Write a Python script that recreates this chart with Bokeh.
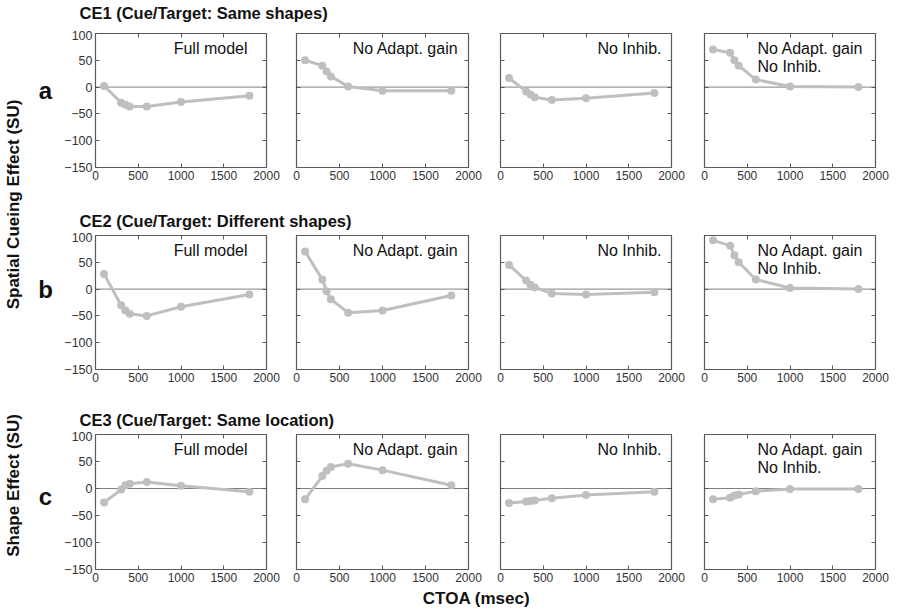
from bokeh.plotting import figure
from bokeh.layouts import row, column
from bokeh.models import (Range1d, LinearAxis, FixedTicker, Label, Span,
                          CustomJSTickFormatter, ColumnDataSource)
from bokeh.embed import file_html
from bokeh.resources import INLINE

# ---------------- data ----------------
ctoa = [100, 300, 350, 400, 600, 1000, 1800]

ce1_full = [2, -29, -33, -36, -36, -28, -16]
ce1_no_adapt = [50, 40, 29, 20, 1, -7, -7]
ce1_no_inhib = [17, -8, -14, -19, -24, -21, -11]
ce1_no_both = [70, 64, 50, 40, 14, 1, 0]

ce2_full = [28, -30, -40, -46, -50, -33, -10]
ce2_no_adapt = [70, 18, -4, -19, -44, -40, -12]
ce2_no_inhib = [45, 16, 8, 3, -8, -10, -6]
ce2_no_both = [91, 81, 63, 50, 18, 2, 0]

ce3_full = [-26, -2, 6, 9, 12, 5, -6]
ce3_no_adapt = [-20, 23, 33, 40, 46, 34, 6]
ce3_no_inhib = [-27, -24, -23, -22, -18, -12, -6]
ce3_no_both = [-20, -17, -13, -11, -5, -1, -1]

row_titles = ["CE1 (Cue/Target: Same shapes)",
              "CE2 (Cue/Target: Different shapes)",
              "CE3 (Cue/Target: Same location)"]
row_letters = ["a", "b", "c"]
panel_names = [["Full model"], ["No Adapt. gain"], ["No Inhib."],
               ["No Adapt. gain", "No Inhib."]]
x_ticks = [0, 500, 1000, 1500, 2000]
y_ticks = [-150, -100, -50, 0, 50, 100]
y_title_top = "Spatial Cueing Effect (SU)"
y_title_bottom = "Shape Effect (SU)"
x_title = "CTOA (msec)"

series = [[ce1_full, ce1_no_adapt, ce1_no_inhib, ce1_no_both],
          [ce2_full, ce2_no_adapt, ce2_no_inhib, ce2_no_both],
          [ce3_full, ce3_no_adapt, ce3_no_inhib, ce3_no_both]]

# ---------------- style / layout ----------------
FONT = "Liberation Sans"
LINE_COLOR = "#bfbfbf"
FRAME_COLOR = "#5a5a5a"
TICK_TXT = "#333333"
TXT = "#111111"
FW = [171, 172, 171, 171]
FH = [134, 134, 135]
LEFT_W = 58
LEFT_B = [37, 15, 16, 17]
RIGHT_B = [15, 16, 16, 21]
TOP_B = [3, 3, 3]
BOT_B = [34, 32, 20]
TITLE_H = [30, 31, 30]
TITLE_Y = [17.5, 12, 12]   # cap centre above the bottom of each title strip
XLABEL_H = 20

minus_fmt = CustomJSTickFormatter(code="return tick < 0 ? '\u2212' + Math.abs(tick) : String(tick);")
blank_fmt = CustomJSTickFormatter(code="return '';")


def make_axis(labels, ticks, size="12px"):
    ax = LinearAxis(ticker=FixedTicker(ticks=ticks),
                    major_tick_in=4, major_tick_out=0,
                    minor_tick_in=0, minor_tick_out=0,
                    major_tick_line_color=FRAME_COLOR,
                    axis_line_color=None)
    if labels:
        ax.formatter = minus_fmt
        ax.major_label_text_font = FONT
        ax.major_label_text_font_size = size
        ax.major_label_text_color = TICK_TXT
        ax.major_label_standoff = 3
    else:
        ax.formatter = blank_fmt
        ax.major_label_text_font_size = "0px"
        ax.major_label_standoff = 0
    return ax


def text_label(x, y, text, size, bold=False, align="left", angle=0):
    return Label(x=x, y=y, x_units="screen", y_units="screen", text=text,
                 angle=angle, angle_units="deg", text_font=FONT,
                 text_font_size=size,
                 text_font_style="bold" if bold else "normal",
                 text_color=TXT, text_align=align, text_baseline="middle")


def panel(r, c):
    fw, fh = FW[c], FH[r]
    p = figure(width=LEFT_B[c] + fw + RIGHT_B[c], height=TOP_B[r] + fh + BOT_B[r],
               x_range=Range1d(0, 2000), y_range=Range1d(-150, 100),
               x_axis_type=None, y_axis_type=None,
               min_border_left=LEFT_B[c], min_border_right=RIGHT_B[c],
               min_border_top=TOP_B[r], min_border_bottom=BOT_B[r],
               output_backend="svg", toolbar_location=None)
    p.outline_line_color = FRAME_COLOR
    p.outline_line_width = 1.2
    p.add_layout(make_axis(True, x_ticks, "12px"), "below")
    p.add_layout(make_axis(c == 0, y_ticks, "12.5px"), "left")
    p.add_layout(make_axis(False, x_ticks), "above")
    p.add_layout(make_axis(False, y_ticks), "right")
    p.add_layout(Span(location=0, dimension="width", line_color="#000000",
                      line_dash="1 1", line_width=1, level="underlay"))
    src = ColumnDataSource(dict(x=ctoa, y=series[r][c]))
    p.line("x", "y", source=src, line_color=LINE_COLOR, line_width=3)
    p.scatter("x", "y", source=src, size=8, fill_color=LINE_COLOR,
              line_color=None)
    names = panel_names[c]
    if len(names) == 1:
        p.add_layout(text_label(fw - (19 if c == 0 else 10), fh - 14.5,
                                names[0], "16px", align="right"))
    else:
        for i, t in enumerate(names):
            p.add_layout(text_label(53, fh - 14.5 - 18.5 * i, t, "16px"))
    return p


def blank(w, h):
    p = figure(width=w, height=h, x_range=Range1d(0, 1), y_range=Range1d(0, 1),
               x_axis_type=None, y_axis_type=None, min_border=0,
               min_border_left=0, min_border_right=0, min_border_top=0,
               min_border_bottom=0, output_backend="svg", toolbar_location=None)
    p.outline_line_color = None
    return p


RIGHT_W = sum(LEFT_B) + sum(RIGHT_B) + sum(FW)

blocks = []
for r in range(3):
    t = blank(RIGHT_W, TITLE_H[r])
    t.add_layout(text_label(79 - LEFT_W, TITLE_Y[r], row_titles[r], "16.5px",
                            bold=True))
    blocks.append(t)
    blocks.append(row([panel(r, c) for c in range(4)], spacing=0))

xl = blank(RIGHT_W, XLABEL_H)
xl.add_layout(text_label(476 - LEFT_W, 11, x_title, "17px", bold=True,
                         align="center"))
blocks.append(xl)

right = column(blocks, spacing=0)
total_h = (sum(TITLE_H) + sum(TOP_B) + sum(BOT_B) + sum(FH) + XLABEL_H)

left = blank(LEFT_W, total_h)
left.add_layout(text_label(13, total_h - 204, y_title_top, "17px", bold=True,
                           align="center", angle=90))
left.add_layout(text_label(13, total_h - 485, y_title_bottom, "17px", bold=True,
                           align="center", angle=90))
for txt, yc in zip(row_letters, [90, 289, 496]):
    left.add_layout(text_label(45, total_h - yc, txt, "24px", bold=True,
                               align="center"))

layout = row([left, right], spacing=0)

open("out.html", "w").write(file_html(layout, INLINE))
